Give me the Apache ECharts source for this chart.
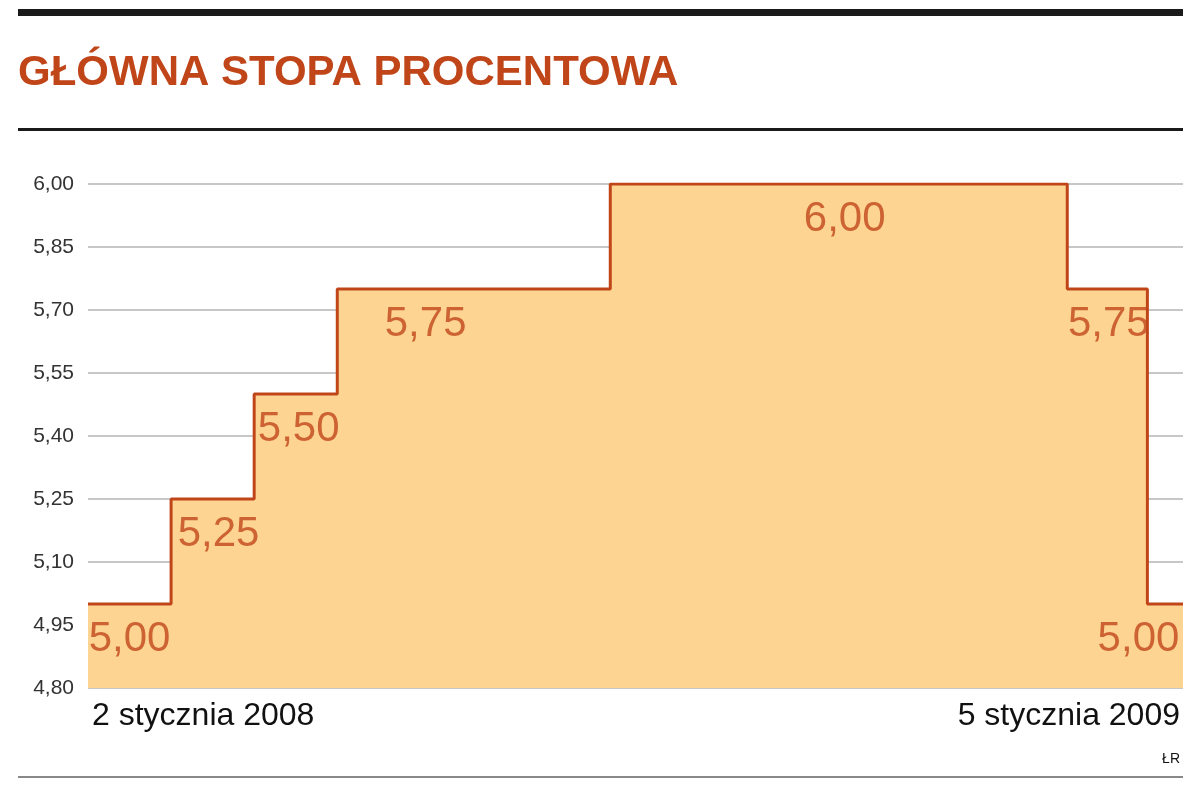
<!DOCTYPE html>
<html><head><meta charset="utf-8">
<script src="https://cdn.jsdelivr.net/npm/echarts@6/dist/echarts.min.js"></script>
<style>html,body{margin:0;background:#fff}#c{width:1200px;height:788px}</style>
</head><body><div id="c"></div>
<script>
// days since 2 Jan 2008, and rate from that day on
const stepDays = [0, 28, 56, 84, 176, 330, 357, 369];
const stepRates = [5.00, 5.25, 5.50, 5.75, 6.00, 5.75, 5.00, 5.00];
const labelDays = [14, 44, 71, 100, 255, 344, 354];
const labelRates = [5.00, 5.25, 5.50, 5.75, 6.00, 5.75, 5.00];
const labelAlign = ['center', 'center', 'center', 'left', 'center', 'center', 'center'];
const xLabels = ['2 stycznia 2008', '5 stycznia 2009'];

const red = '#c0461a';
const font = '"Liberation Sans Narrow", "Liberation Sans", sans-serif';
const chart = echarts.init(document.getElementById('c'));
chart.setOption({
  animation: false,
  grid: { left: 88, right: 17, top: 184, bottom: 100 },
  xAxis: { type: 'value', min: 0, max: 369, show: false },
  yAxis: {
    type: 'value', min: 4.8, max: 6.0, interval: 0.15,
    axisLine: { show: false }, axisTick: { show: false },
    splitLine: { lineStyle: { color: '#b5b5b5', width: 1.5 } },
    axisLabel: { color: '#333', fontSize: 21, fontFamily: font, margin: 14,
      formatter: v => v.toFixed(2).replace('.', ',') }
  },
  series: [
    { type: 'line', step: 'end', symbol: 'none',
      data: stepDays.map((d, i) => [d, stepRates[i]]),
      lineStyle: { color: red, width: 3 },
      areaStyle: { color: '#fdd492', opacity: 1, origin: 'start' }, z: 1 },
    { type: 'scatter', symbolSize: 0, z: 3,
      data: labelDays.map((d, i) => ({ value: [d, labelRates[i]],
        label: { align: labelAlign[i] } })),
      label: { show: true, position: 'bottom', distance: 14, color: red,
        fontSize: 42, fontFamily: font,
        formatter: p => p.value[1].toFixed(2).replace('.', ',') } }
  ],
  graphic: [
    { type: 'rect', shape: { x: 18, y: 9, width: 1165, height: 7 }, style: { fill: '#1a1a1a' } },
    { type: 'text', left: 18, top: 52, style: { text: 'GŁÓWNA STOPA PROCENTOWA', fill: red,
      font: 'bold 42px ' + font } },
    { type: 'rect', shape: { x: 18, y: 128, width: 1165, height: 3 }, style: { fill: '#1a1a1a' } },
    { type: 'text', left: 92, top: 700, style: { text: xLabels[0], fill: '#111', font: '32px ' + font } },
    { type: 'text', right: 20, top: 700, style: { text: xLabels[1], fill: '#111', font: '32px ' + font } },
    { type: 'text', right: 20, top: 752, style: { text: 'ŁR', fill: '#111', font: '14px ' + font } },
    { type: 'rect', shape: { x: 18, y: 776, width: 1165, height: 2 }, style: { fill: '#888' } }
  ]
});
</script></body></html>
